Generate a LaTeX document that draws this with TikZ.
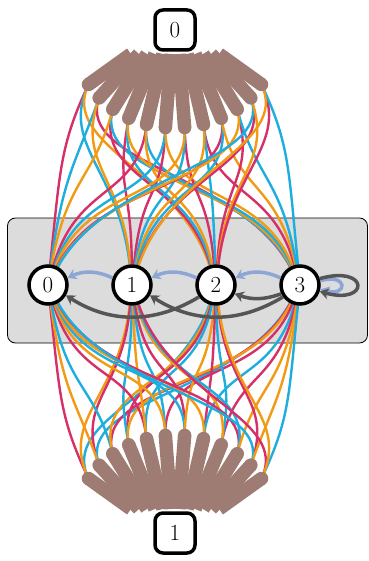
\documentclass[tikz,border=0pt]{standalone}
\usepackage{tikz}
\usetikzlibrary{positioning, arrows.meta, calc}

\definecolor{fanbrown}{RGB}{158,124,115}
\definecolor{wirered}{RGB}{214,48,104}
\definecolor{wirecyan}{RGB}{30,174,222}
\definecolor{wireorange}{RGB}{242,154,20}
\definecolor{darkarrow}{RGB}{85,85,85}
\definecolor{lightarrow}{RGB}{142,166,214}
\definecolor{panelgray}{RGB}{220,220,220}

\pgfdeclarelayer{bg}
\pgfdeclarelayer{mid}
\pgfsetlayers{bg,mid,main}

\begin{document}
\begin{tikzpicture}[x=1pt, y=1pt, node distance=84pt]
    \tikzstyle{qstate} = [circle, draw, line width=3.5pt, fill=white, minimum size=38pt, inner sep=0pt, font=\fontsize{23}{23}\selectfont]
    \tikzstyle{portbox} = [rectangle, rounded corners=8pt, draw, line width=3.5pt, fill=white, minimum width=40pt, minimum height=40pt, inner sep=0pt, font=\fontsize{23}{23}\selectfont]
    \tikzstyle{panel} = [rectangle, rounded corners=8pt, draw, line width=0.8pt, fill=panelgray, minimum width=360pt, minimum height=125pt]
    \tikzstyle{finger} = [draw=fanbrown, line width=13.5pt, line cap=butt]
    \tikzstyle{wire} = [line width=2.4pt]
    \tikzstyle{hop} = [draw=lightarrow, line width=3.5pt, -{Stealth[length=9pt, width=11pt]}]
    \tikzstyle{jump} = [draw=darkarrow, line width=3.5pt, -{Stealth[length=9pt, width=11pt]}]

    \useasboundingbox (0,0) rectangle (368,-561);

    % States in the row
    \node[qstate] (n0) at (48,-285) {0};
    \node[qstate] (n1) [right of=n0] {1};
    \node[qstate] (n2) [right of=n1] {2};
    \node[qstate] (n3) [right of=n2] {3};

    % Top and bottom ports
    \node[portbox] (top) at (175,-30) {0};
    \node[portbox] (bot) at (175,-533) {1};

    \begin{pgfonlayer}{bg}
        \node[panel] (panel) at (187.5,-280.5) {};
    \end{pgfonlayer}

    % Fan points
    \foreach \i in {0,...,11} {
        \pgfmathsetmacro{\ang}{152-\i*124/11}
        \coordinate (ts\i) at ({175+(\i-5.5)*8}, -54);
        \coordinate (tt\i) at ({175+98*cos(\ang)}, {-46-82*sin(\ang)});
        \coordinate (bs\i) at ({175+(\i-5.5)*8}, -509);
        \coordinate (bt\i) at ({175+98*cos(\ang)}, {-517+82*sin(\ang)});
    }

    \begin{pgfonlayer}{mid}
        % Wires from the top fan
        \foreach \i/\r/\c/\o in {0/0/1/2, 1/3/0/1, 2/2/3/0, 3/1/2/3, 4/0/3/2, 5/1/0/3,
                                 6/2/1/0, 7/3/2/1, 8/0/1/3, 9/2/3/0, 10/1/0/2, 11/2/3/1} {
            \foreach \t/\col in {\r/wirered, \c/wirecyan, \o/wireorange}
                \draw[wire, \col] (tt\i) .. controls ($(tt\i)!-35pt!(ts\i)+(0,-40)$)
                    and ($(n\t)!0.3!(tt\i)+(0,55)$) .. (n\t);
        }
        % Wires from the bottom fan
        \foreach \i/\r/\c/\o in {0/0/2/1, 1/1/3/0, 2/3/0/2, 3/2/1/3, 4/0/2/1, 5/3/1/0,
                                 6/1/0/2, 7/2/3/0, 8/3/2/1, 9/0/1/3, 10/2/0/3, 11/1/3/2} {
            \foreach \t/\col in {\r/wirered, \c/wirecyan, \o/wireorange}
                \draw[wire, \col] (bt\i) .. controls ($(bt\i)!-35pt!(bs\i)+(0,40)$)
                    and ($(n\t)!0.3!(bt\i)+(0,-55)$) .. (n\t);
        }
        % Fingers
        \foreach \i in {0,...,11} {
            \draw[finger] (ts\i) -- (tt\i);
            \fill[fanbrown] (tt\i) circle (6.75pt);
            \draw[finger] (bs\i) -- (bt\i);
            \fill[fanbrown] (bt\i) circle (6.75pt);
        }
    \end{pgfonlayer}

    % Arrows
    \draw[hop] (n1.160) to[bend right=25] (n0.20);
    \draw[hop] (n2.160) to[bend right=25] (n1.20);
    \draw[hop] (n3.160) to[bend right=25] (n2.20);
    \draw[hop] (n3.12) .. controls +(28,8) and +(28,-8) .. (n3.-12);
    \draw[jump] (n3.205) to[bend left=20] (n2.-25);
    \draw[jump] (n3.215) to[bend left=32] (n1.-30);
    \draw[jump] (n2.215) to[bend left=32] (n0.-30);
    \draw[jump] (n3.18) .. controls +(50,14) and +(50,-14) .. (n3.-18);
\end{tikzpicture}
\end{document}
